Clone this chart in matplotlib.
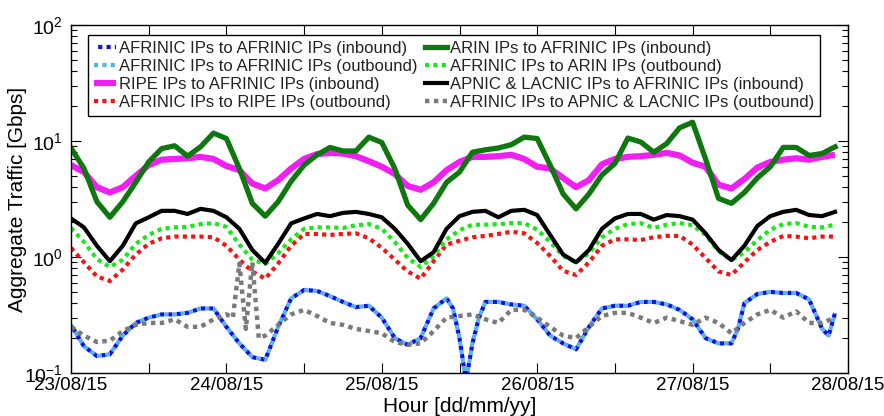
import matplotlib
matplotlib.use("Agg")
import matplotlib.pyplot as plt
from matplotlib.ticker import LogLocator, NullFormatter

plt.rcParams["font.family"] = ["Liberation Sans", "DejaVu Sans"]
plt.rcParams["mathtext.fontset"] = "custom"
plt.rcParams["mathtext.rm"] = "Liberation Sans"
plt.rcParams["mathtext.it"] = "Liberation Sans:italic"
plt.rcParams["mathtext.bf"] = "Liberation Sans:bold"

# ------------------------------------------------------------
# Data (hours since 23/08/15 00:00, traffic in Gbps)
# ------------------------------------------------------------
hours = list(range(0, 120, 2))

arin_in = [8.7, 5.8, 3.0, 2.2, 3.0, 4.4, 6.6, 8.6, 9.1, 7.4,
           8.9, 11.7, 10.5, 5.8, 2.9, 2.25, 3.0, 4.5, 6.2, 7.6,
           8.8, 8.2, 8.2, 10.8, 9.7, 5.8, 2.8, 2.1, 2.9, 4.4,
           5.4, 8.0, 8.4, 8.7, 9.3, 10.8, 10.5, 6.2, 3.5, 2.6,
           3.5, 5.1, 6.4, 10.6, 9.8, 8.0, 9.5, 13.0, 14.5, 7.0,
           3.2, 2.9, 3.6, 4.8, 6.0, 8.8, 8.8, 7.5, 7.8, 8.9]

ripe_in = [6.2, 5.4, 4.0, 3.6, 4.0, 5.0, 6.2, 6.9, 7.0, 7.1,
           7.3, 7.0, 6.1, 5.6, 4.3, 3.9, 4.6, 5.8, 7.0, 7.7,
           7.9, 7.8, 7.4, 6.7, 6.0, 5.2, 4.1, 3.8, 4.4, 5.6,
           6.6, 7.3, 7.3, 7.4, 7.6, 7.0, 6.0, 5.8, 4.8, 4.0,
           4.6, 6.3, 7.0, 7.3, 7.4, 7.6, 7.9, 7.5, 6.5, 6.0,
           4.2, 3.9, 4.7, 5.9, 6.6, 6.9, 7.1, 6.9, 7.3, 7.6]

apnic_lacnic_in = [2.15, 1.8, 1.25, 0.92, 1.25, 1.95, 2.2, 2.5, 2.5, 2.35,
                   2.6, 2.5, 2.2, 1.75, 1.15, 0.89, 1.3, 1.95, 2.15, 2.35,
                   2.25, 2.4, 2.45, 2.35, 2.2, 1.75, 1.3, 0.92, 1.1, 1.75,
                   2.25, 2.45, 2.5, 2.2, 2.5, 2.55, 2.3, 1.55, 1.05, 0.9,
                   1.15, 1.75, 2.15, 2.35, 2.35, 2.1, 2.3, 2.25, 2.1, 1.6,
                   1.15, 0.94, 1.25, 1.85, 2.25, 2.45, 2.55, 2.3, 2.25, 2.45]

arin_out = [1.78, 1.35, 0.96, 0.82, 0.95, 1.3, 1.55, 1.75, 1.8, 1.82,
            1.92, 1.96, 1.82, 1.28, 0.95, 0.87, 1.08, 1.42, 1.75, 1.8,
            1.8, 1.78, 1.88, 1.92, 1.75, 1.35, 0.98, 0.82, 1.02, 1.42,
            1.7, 1.9, 1.9, 1.92, 1.96, 1.96, 1.72, 1.35, 1.02, 0.9,
            1.08, 1.48, 1.75, 1.92, 1.96, 1.78, 1.9, 1.96, 1.88, 1.55,
            1.12, 0.94, 1.1, 1.4, 1.72, 1.92, 1.96, 1.82, 1.8, 1.9]

ripe_out = [1.2, 0.9, 0.68, 0.62, 0.78, 1.05, 1.3, 1.45, 1.5, 1.5,
            1.5, 1.48, 1.25, 0.95, 0.75, 0.65, 0.88, 1.25, 1.58, 1.58,
            1.55, 1.58, 1.6, 1.45, 1.2, 0.95, 0.75, 0.65, 0.92, 1.28,
            1.38, 1.48, 1.52, 1.58, 1.65, 1.6, 1.32, 1.02, 0.76, 0.7,
            0.9, 1.25, 1.42, 1.42, 1.4, 1.48, 1.52, 1.52, 1.28, 0.98,
            0.75, 0.7, 0.9, 1.15, 1.35, 1.52, 1.5, 1.45, 1.5, 1.5]

afrinic_hours = [0, 2, 4, 6, 8, 10, 12, 14, 16, 18,
                 20, 22, 24, 26, 28, 30, 32, 34, 36, 38,
                 40, 42, 44, 46, 48, 50, 52, 54, 56, 58,
                 59, 60, 61, 62, 63, 64, 66, 68, 70, 72,
                 74, 76, 78, 80, 82, 84, 86, 88, 90, 92,
                 94, 96, 98, 100, 102, 103, 104, 106, 108, 110,
                 112, 114, 116, 117, 118]
afrinic_out = [0.26, 0.17, 0.14, 0.145, 0.21, 0.27, 0.3, 0.32, 0.32, 0.33,
               0.36, 0.36, 0.25, 0.18, 0.137, 0.13, 0.25, 0.44, 0.52, 0.51,
               0.46, 0.41, 0.37, 0.38, 0.3, 0.2, 0.175, 0.2, 0.36, 0.44,
               0.36, 0.2, 0.085, 0.18, 0.3, 0.41, 0.41, 0.39, 0.38, 0.29,
               0.21, 0.18, 0.16, 0.25, 0.36, 0.38, 0.38, 0.41, 0.41, 0.39,
               0.35, 0.29, 0.2, 0.18, 0.18, 0.24, 0.4, 0.48, 0.5, 0.49,
               0.49, 0.43, 0.24, 0.21, 0.33]
afrinic_in = [0.26, 0.17, 0.14, 0.145, 0.21, 0.27, 0.3, 0.32, 0.32, 0.33,
              0.36, 0.36, 0.25, 0.18, 0.137, 0.13, 0.25, 0.44, 0.52, 0.51,
              0.46, 0.41, 0.37, 0.38, 0.3, 0.2, 0.175, 0.2, 0.36, 0.44,
              0.36, 0.2, 0.085, 0.18, 0.3, 0.41, 0.41, 0.39, 0.38, 0.29,
              0.21, 0.18, 0.16, 0.25, 0.36, 0.38, 0.38, 0.41, 0.41, 0.39,
              0.35, 0.29, 0.2, 0.18, 0.18, 0.24, 0.4, 0.48, 0.5, 0.49,
              0.49, 0.43, 0.24, 0.21, 0.33]

apnic_hours = [0, 2, 4, 6, 8, 10, 12, 14, 16, 18,
               20, 22, 24, 25, 26, 27, 28, 29, 30, 32,
               34, 36, 38, 40, 42, 44, 46, 48, 50, 52,
               54, 56, 58, 60, 62, 64, 66, 68, 70, 72,
               74, 76, 78, 80, 82, 84, 86, 88, 90, 92,
               94, 96, 98, 100, 102, 104, 106, 108, 110, 112,
               114, 116, 118]
apnic_lacnic_out = [0.25, 0.21, 0.185, 0.19, 0.23, 0.26, 0.27, 0.27, 0.29, 0.25,
                    0.25, 0.29, 0.32, 0.3, 0.88, 0.24, 0.9, 0.2, 0.21, 0.26,
                    0.32, 0.35, 0.31, 0.27, 0.26, 0.24, 0.23, 0.22, 0.185, 0.175,
                    0.18, 0.23, 0.3, 0.31, 0.32, 0.29, 0.27, 0.35, 0.35, 0.3,
                    0.25, 0.21, 0.2, 0.25, 0.31, 0.33, 0.33, 0.3, 0.27, 0.3,
                    0.28, 0.26, 0.3, 0.27, 0.22, 0.27, 0.32, 0.35, 0.3, 0.34,
                    0.27, 0.27, 0.3]

day_labels = ["23/08/15", "24/08/15", "25/08/15", "26/08/15", "27/08/15", "28/08/15"]

labels = [
    "AFRINIC IPs to AFRINIC IPs (inbound)",
    "AFRINIC IPs to AFRINIC IPs (outbound)",
    "RIPE IPs to AFRINIC IPs (inbound)",
    "AFRINIC IPs to RIPE IPs (outbound)",
    "ARIN IPs to AFRINIC IPs (inbound)",
    "AFRINIC IPs to ARIN IPs (outbound)",
    "APNIC & LACNIC IPs to AFRINIC IPs (inbound)",
    "AFRINIC IPs to APNIC & LACNIC IPs (outbound)",
]

# ------------------------------------------------------------
# Plot
# ------------------------------------------------------------
W, H = 884, 416
fig = plt.figure(figsize=(W / 100, H / 100), dpi=100, facecolor="white")
ax = fig.add_axes([71 / W, 1 - 373 / H, (848 - 71) / W, (373 - 25) / H])

dots = (0, (1, 1))
dots_shift = (1, (1, 1))

l1, = ax.plot(afrinic_hours, afrinic_in, color="#1010E8", lw=3.0, linestyle=dots_shift)
l2, = ax.plot(afrinic_hours, afrinic_out, color="#55B4E6", lw=3.0, linestyle=dots)
l3, = ax.plot(hours, ripe_in, color="#F020F0", lw=4.5, solid_capstyle="butt")
l4, = ax.plot(hours, ripe_out, color="#F41414", lw=3.0, linestyle=dots)
l5, = ax.plot(hours, arin_in, color="#0E780E", lw=3.8)
l6, = ax.plot(hours, arin_out, color="#18E818", lw=3.0, linestyle=dots)
l7, = ax.plot(hours, apnic_lacnic_in, color="black", lw=3.0)
l8, = ax.plot(apnic_hours, apnic_lacnic_out, color="#7A7A7A", lw=3.2, linestyle=dots)

ax.set_yscale("log")
ax.set_ylim(0.1, 100)
ax.set_xlim(0, 120)

ax.yaxis.set_major_locator(LogLocator(base=10, numticks=10))
ax.yaxis.set_minor_locator(LogLocator(base=10, subs=range(2, 10), numticks=20))
ax.yaxis.set_minor_formatter(NullFormatter())

xt = list(range(0, 121, 12))
ax.set_xticks(xt)
xl = []
for i in range(len(xt)):
    xl.append(day_labels[i // 2] if i % 2 == 0 else "")
ax.set_xticklabels(xl)

ax.tick_params(which="both", direction="in", top=True, right=True, colors="black")
ax.tick_params(axis="y", labelsize=14, pad=6)
ax.tick_params(axis="x", labelsize=13.5, pad=3)
ax.tick_params(which="major", length=7, width=0.8)
ax.tick_params(which="minor", length=4, width=0.8)
for spine in ax.spines.values():
    spine.set_linewidth(1.0)

ax.set_ylabel("Aggregate Traffic [Gbps]", fontsize=15, labelpad=-2)
ax.set_xlabel("Hour [dd/mm/yy]", fontsize=15, labelpad=2)

leg = ax.legend([l1, l2, l3, l4, l5, l6, l7, l8], labels,
                ncol=2, loc="upper left", mode="expand",
                bbox_to_anchor=(88 / W, 1 - 116 / H, (820 - 88) / W, (116 - 35) / H),
                bbox_transform=fig.transFigure, borderaxespad=0,
                fontsize=12, labelspacing=0.18, handlelength=1.3,
                handletextpad=0.2, borderpad=0.35, fancybox=False,
                framealpha=1, edgecolor="black")
leg.get_frame().set_linewidth(1.0)
for t in leg.get_texts():
    t.set_color("#222222")

fig.savefig("out.png", dpi=100, facecolor="white")
